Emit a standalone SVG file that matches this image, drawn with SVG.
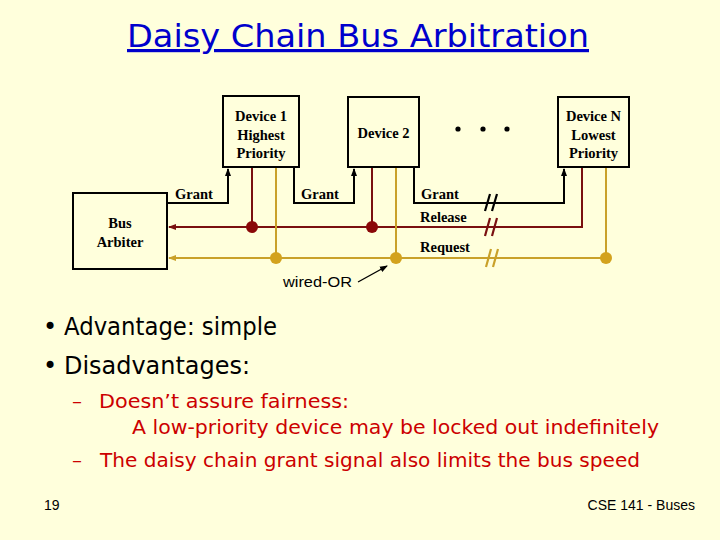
<svg xmlns="http://www.w3.org/2000/svg" width="720" height="540" viewBox="0 0 720 540">
<style>
.box{fill:none;stroke:#000;stroke-width:2}
.dev{font-family:"Liberation Serif",serif;font-weight:bold;font-size:14.5px;fill:#000;text-anchor:middle}
.lbl{font-family:"Liberation Serif",serif;font-weight:bold;font-size:14.5px;fill:#000}
.g{fill:none;stroke:#000;stroke-width:2}
.r{fill:none;stroke:#7a1010;stroke-width:2}
.q{fill:none;stroke:#c9a12a;stroke-width:2}
.brk{stroke-width:2.2}
.bul{font-family:"DejaVu Sans","Noto Sans",sans-serif;font-size:24px;fill:#000}
.sub{font-family:"DejaVu Sans","Noto Sans",sans-serif;font-size:20px;fill:#cc0000}
.foot{font-family:"Liberation Sans",sans-serif;font-size:14px;fill:#000}
</style>
<defs>
<marker id="ag" markerWidth="8" markerHeight="8" refX="7" refY="4" orient="auto" markerUnits="userSpaceOnUse"><path d="M0,1 L8,4 L0,7 Z" fill="#000"/></marker>
<marker id="ar" markerWidth="8" markerHeight="8" refX="7" refY="4" orient="auto" markerUnits="userSpaceOnUse"><path d="M0,1 L8,4 L0,7 Z" fill="#7a1010"/></marker>
<marker id="aq" markerWidth="8" markerHeight="8" refX="7" refY="4" orient="auto" markerUnits="userSpaceOnUse"><path d="M0,1 L8,4 L0,7 Z" fill="#c9a12a"/></marker>
</defs>
<rect width="720" height="540" fill="#ffffdc"/>
<text x="358" y="47" text-anchor="middle" font-family="DejaVu Sans,'Noto Sans',sans-serif" font-size="32" fill="#0000cc" text-decoration="underline" textLength="462" lengthAdjust="spacingAndGlyphs">Daisy Chain Bus Arbitration</text>

<g id="connectors">
<path class="g" d="M167,203 H228 V169" marker-end="url(#ag)"/>
<path class="g" d="M294,167 V203 H354 V169" marker-end="url(#ag)"/>
<path class="g" d="M414,167 V203 H564 V169" marker-end="url(#ag)"/>
<path class="r" d="M582,167 V227 H169" marker-end="url(#ar)"/>
<path class="r" d="M252,167 V227"/>
<path class="r" d="M372,167 V227"/>
<path class="q" d="M606,167 V258 H169" marker-end="url(#aq)"/>
<path class="q" d="M276,167 V258"/>
<path class="q" d="M396,167 V258"/>
<g class="brk">
<path d="M485,211 L490,194 M492,211 L497,194" stroke="#000"/>
<path d="M485,236 L490,218 M492,236 L497,218" stroke="#7a1010"/>
<path d="M486,267 L491,249 M493,267 L498,249" stroke="#c9a12a"/>
</g>
<circle cx="252" cy="227" r="6" fill="#8a0808"/>
<circle cx="372" cy="227" r="6" fill="#8a0808"/>
<circle cx="276" cy="258" r="6" fill="#d3a21e"/>
<circle cx="396" cy="258" r="6" fill="#d3a21e"/>
<circle cx="606" cy="258" r="6" fill="#d3a21e"/>
<text class="lbl" x="175" y="199">Grant</text>
<text class="lbl" x="301" y="199">Grant</text>
<text class="lbl" x="421" y="199">Grant</text>
<text class="lbl" x="420" y="222">Release</text>
<text class="lbl" x="420" y="252">Request</text>
<path d="M358,282 L387,266" stroke="#000" stroke-width="1.3" fill="none" marker-end="url(#ag)"/>
<text x="283" y="287" font-family="Liberation Sans,Arial,sans-serif" font-size="15" textLength="69" lengthAdjust="spacingAndGlyphs">wired-OR</text>
</g>

<g id="arbiter">
<rect class="box" x="73" y="193" width="94" height="76"/>
<text class="dev" x="120" y="228">Bus</text>
<text class="dev" x="120" y="247">Arbiter</text>
</g>
<g id="device1">
<rect class="box" x="223" y="96" width="76" height="71"/>
<text class="dev" x="261" y="121">Device 1</text>
<text class="dev" x="261" y="140">Highest</text>
<text class="dev" x="261" y="158">Priority</text>
</g>
<g id="device2">
<rect class="box" x="348" y="97" width="71" height="70"/>
<text class="dev" x="383.5" y="138">Device 2</text>
</g>
<g id="ellipsis">
<circle cx="458" cy="129" r="2.6" fill="#000"/>
<circle cx="483" cy="129" r="2.6" fill="#000"/>
<circle cx="507" cy="129" r="2.6" fill="#000"/>
</g>
<g id="deviceN">
<rect class="box" x="558" y="97" width="71" height="70"/>
<text class="dev" x="593.5" y="121">Device N</text>
<text class="dev" x="593.5" y="140">Lowest</text>
<text class="dev" x="593.5" y="158">Priority</text>
</g>

<g id="text">
<text class="bul" x="43" y="335">•</text>
<text class="bul" x="64" y="335" textLength="213" lengthAdjust="spacingAndGlyphs">Advantage: simple</text>
<text class="bul" x="43" y="374">•</text>
<text class="bul" x="64" y="374" textLength="186" lengthAdjust="spacingAndGlyphs">Disadvantages:</text>
<text class="sub" x="72" y="408">–</text>
<text class="sub" x="99" y="408" textLength="250" lengthAdjust="spacingAndGlyphs">Doesn’t  assure fairness:</text>
<text class="sub" x="132" y="434" textLength="527" lengthAdjust="spacingAndGlyphs">A low-priority device may be locked out indefinitely</text>
<text class="sub" x="72" y="467">–</text>
<text class="sub" x="100" y="467" textLength="540" lengthAdjust="spacingAndGlyphs">The daisy chain grant signal also limits the bus speed</text>
<text class="foot" x="44" y="510">19</text>
<text class="foot" x="695" y="510" text-anchor="end">CSE 141 - Buses</text>
</g>
</svg>
